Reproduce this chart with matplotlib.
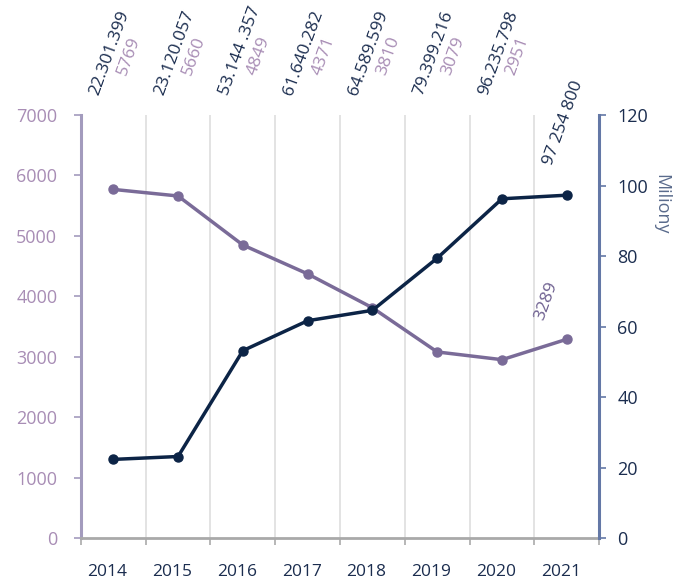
import matplotlib.pyplot as plt
from matplotlib.ticker import FixedLocator, MultipleLocator
import matplotlib.transforms as mtransforms

plt.rcParams['font.family'] = ['Open Sans', 'DejaVu Sans']

years = ['2014', '2015', '2016', '2017', '2018', '2019', '2020', '2021']
counts = [5769, 5660, 4849, 4371, 3810, 3079, 2951, 3289]
millions = [22.301399, 23.120057, 53.144357, 61.640282, 64.589599, 79.399216, 96.235798, 97.254800]
million_labels = ['22.301.399', '23.120.057', '53.144 .357', '61.640.282',
                  '64.589.599', '79.399.216', '96.235.798', '97 254 800']
count_labels = ['5769', '5660', '4849', '4371', '3810', '3079', '2951', '3289']

PURPLE = '#7a6b98'
PURPLE_TXT = '#a88db5'
NAVY = '#0c2446'
NAVY_TXT = '#1b2d4f'
LEFT_SPINE = '#a39bbd'
RIGHT_SPINE = '#6478a6'

fig = plt.figure(figsize=(6.74, 5.80), dpi=100)
ax = fig.add_axes([0.120, 0.0724, 0.769, 0.7293])
ax2 = ax.twinx()

x = list(range(len(years)))

ax.plot(x, counts, color=PURPLE, lw=2.5, marker='o', ms=6.5, zorder=3)
ax2.plot(x, millions, color=NAVY, lw=2.5, marker='o', ms=6.5, zorder=3)

ax.set_xlim(-0.5, 7.5)
ax.set_ylim(0, 7000)
ax2.set_ylim(0, 120)

# band edges: grid + small ticks
ax.xaxis.set_major_locator(FixedLocator([i + 0.5 for i in range(-1, 8)]))
ax.set_xticklabels([])
ax.xaxis.set_minor_locator(FixedLocator(x))
ax.set_xticklabels(years, minor=True)
ax.tick_params(axis='x', which='major', length=5, width=1.2, color='#aaaaaa', direction='out')
ax.tick_params(axis='x', which='minor', length=0, pad=19, labelsize=12.5, labelcolor=NAVY_TXT)
shift = mtransforms.ScaledTranslation(-6 / 100, 0, fig.dpi_scale_trans)
for lab in ax.xaxis.get_minorticklabels():
    lab.set_transform(lab.get_transform() + shift)
ax.grid(axis='x', which='major', color='#dedede', lw=1.2)
ax.set_axisbelow(True)

ax.yaxis.set_major_locator(MultipleLocator(1000))
ax.tick_params(axis='y', length=5, width=1.2, color=LEFT_SPINE, pad=12,
               labelsize=13, labelcolor=PURPLE_TXT)
ax2.yaxis.set_major_locator(MultipleLocator(20))
ax2.tick_params(axis='y', length=5, width=1.2, color=RIGHT_SPINE, pad=8,
                labelsize=13, labelcolor=NAVY_TXT)

for a in (ax, ax2):
    a.spines['top'].set_visible(False)
ax.spines['right'].set_visible(False)
ax2.spines['left'].set_visible(False)
ax2.spines['bottom'].set_visible(False)
ax.spines['left'].set_color(LEFT_SPINE)
ax.spines['left'].set_linewidth(2.2)
ax.spines['bottom'].set_color('#a9a9a9')
ax.spines['bottom'].set_linewidth(2)
ax2.spines['right'].set_color(RIGHT_SPINE)
ax2.spines['right'].set_linewidth(2.2)

ax2.set_ylabel('Miliony', rotation=-90, color='#5a6b8c', fontsize=13, va='center')
ax2.yaxis.set_label_coords(1.120, 0.79)

rot = 70
fs = 12.5
# rotated value labels above the plot
for i in range(len(years) - 1):
    ax.annotate(million_labels[i], xy=(i, 1.0), xycoords=('data', 'axes fraction'),
                xytext=(-11, 14), textcoords='offset points', rotation=rot,
                rotation_mode='anchor', ha='left', va='baseline',
                color=NAVY_TXT, fontsize=fs, annotation_clip=False)
    ax.annotate(count_labels[i], xy=(i, 1.0), xycoords=('data', 'axes fraction'),
                xytext=(9, 28), textcoords='offset points', rotation=rot,
                rotation_mode='anchor', ha='left', va='baseline',
                color=PURPLE_TXT, fontsize=fs, annotation_clip=False)

last = len(years) - 1
ax2.annotate(million_labels[last], xy=(last, millions[last]),
             xytext=(-11, 21), textcoords='offset points', rotation=rot,
             rotation_mode='anchor', ha='left', va='baseline',
             color=NAVY_TXT, fontsize=fs, annotation_clip=False)
ax.annotate(count_labels[last], xy=(last, counts[last]),
            xytext=(-17, 13), textcoords='offset points', rotation=rot,
            rotation_mode='anchor', ha='left', va='baseline',
            color='#6e6090', fontsize=fs, annotation_clip=False)

fig.savefig('out.png', dpi=100)
